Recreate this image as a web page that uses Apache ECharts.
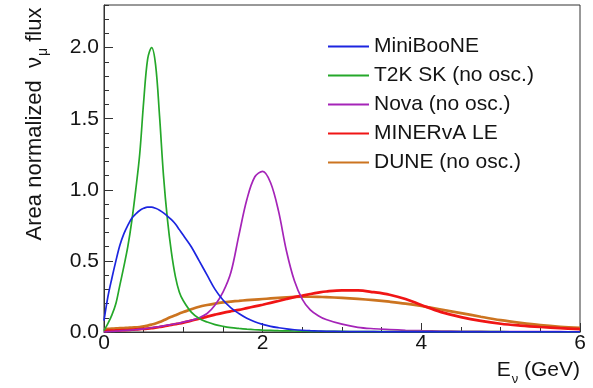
<!DOCTYPE html>
<html>
<head>
<meta charset="utf-8">
<script src="https://cdn.jsdelivr.net/npm/echarts@6/dist/echarts.min.js"></script>
<style>
  html, body { margin: 0; padding: 0; background: #fff; }
  #chart { width: 593px; height: 388px; }
</style>
</head>
<body>
<div id="chart"></div>
<script>
// Neutrino energy grid (GeV)
const energies = [0, 0.05, 0.1, 0.15, 0.2, 0.25, 0.3, 0.35, 0.4, 0.45, 0.5, 0.55, 0.6, 0.65, 0.7, 0.75, 0.8, 0.85, 0.9, 0.95, 1.0,
  1.1, 1.2, 1.3, 1.4, 1.5, 1.6, 1.7, 1.8, 1.9, 2.0, 2.1, 2.2, 2.3, 2.4, 2.5, 2.6, 2.7, 2.8,
  3.0, 3.2, 3.4, 3.6, 3.8, 4.0,
  4.25, 4.5, 4.75, 5.0, 5.25, 5.5, 5.75, 6.0];

// Area-normalized numu flux per beam
const miniboone = [0.08, 0.25, 0.38, 0.5, 0.61, 0.69, 0.75, 0.8, 0.83, 0.855, 0.87, 0.878, 0.878, 0.87, 0.857, 0.838, 0.815, 0.79, 0.76, 0.72, 0.68,
  0.6, 0.5, 0.4, 0.3, 0.225, 0.17, 0.13, 0.097, 0.072, 0.054, 0.04, 0.03, 0.022, 0.016, 0.012, 0.009, 0.007, 0.005,
  0.003, 0.002, 0.002, 0.001, 0.001, 0.001,
  0.001, 0.001, 0.001, 0.001, 0.001, 0.001, 0.001, 0.001];

const t2kSK = [0.01, 0.06, 0.12, 0.2, 0.33, 0.46, 0.6, 0.78, 1.0, 1.25, 1.62, 1.92, 2.0, 1.88, 1.52, 1.1, 0.79, 0.56, 0.39, 0.28, 0.22,
  0.14, 0.095, 0.07, 0.052, 0.04, 0.031, 0.025, 0.02, 0.016, 0.013, 0.011, 0.009, 0.008, 0.007, 0.006, 0.005, 0.005, 0.004,
  0.004, 0.003, 0.003, 0.003, 0.002, 0.002,
  0.002, 0.002, 0.002, 0.002, 0.001, 0.001, 0.001, 0.001];

const nova = [0, 0.002, 0.004, 0.006, 0.008, 0.01, 0.012, 0.014, 0.016, 0.019, 0.022, 0.026, 0.03, 0.034, 0.038, 0.043, 0.048, 0.053, 0.058, 0.063, 0.069,
  0.082, 0.1, 0.13, 0.19, 0.28, 0.42, 0.68, 0.93, 1.09, 1.13, 1.05, 0.85, 0.57, 0.36, 0.23, 0.155, 0.115, 0.088,
  0.055, 0.033, 0.023, 0.017, 0.012, 0.009,
  0.007, 0.005, 0.004, 0.003, 0.002, 0.002, 0.002, 0.001];

const minervaLE = [0.008, 0.009, 0.01, 0.011, 0.012, 0.013, 0.014, 0.016, 0.018, 0.02, 0.022, 0.024, 0.027, 0.031, 0.035, 0.04, 0.045, 0.05, 0.055, 0.06, 0.066,
  0.08, 0.093, 0.108, 0.122, 0.135, 0.146, 0.156, 0.168, 0.18, 0.192, 0.205, 0.218, 0.232, 0.245, 0.256, 0.267, 0.277, 0.285,
  0.293, 0.293, 0.28, 0.262, 0.232, 0.19,
  0.14, 0.105, 0.078, 0.058, 0.045, 0.035, 0.027, 0.02];

const dune = [0.02, 0.022, 0.024, 0.025, 0.027, 0.028, 0.03, 0.031, 0.033, 0.035, 0.04, 0.045, 0.052, 0.06, 0.07, 0.082, 0.095, 0.107, 0.118, 0.13, 0.14,
  0.16, 0.178, 0.19, 0.2, 0.208, 0.214, 0.219, 0.224, 0.228, 0.232, 0.236, 0.24, 0.244, 0.247, 0.248, 0.248, 0.247, 0.245,
  0.24, 0.233, 0.224, 0.213, 0.2, 0.183,
  0.158, 0.133, 0.107, 0.083, 0.064, 0.048, 0.037, 0.03];

const seriesNames = ['MiniBooNE', 'T2K SK (no osc.)', 'Nova (no osc.)', 'MINERvA LE', 'DUNE (no osc.)'];
const xTickLabels = ['0', '2', '4', '6'];
const yTickLabels = ['0.0', '0.5', '1.0', '1.5', '2.0'];

const FONT = '"Liberation Sans", Arial, Helvetica, sans-serif';
const INK = '#141414';

function pairs(values) {
  return energies.map((e, i) => [e, values[i]]);
}

const styles = [
  { data: miniboone, color: '#1c25e0', width: 1.7, z: 6 },
  { data: t2kSK, color: '#25a82a', width: 1.7, z: 5 },
  { data: nova, color: '#a524b8', width: 1.7, z: 4 },
  { data: minervaLE, color: '#f01515', width: 2.7, z: 3 },
  { data: dune, color: '#cc7420', width: 2.7, z: 2 }
];

const chart = echarts.init(document.getElementById('chart'), null, { renderer: 'canvas' });

chart.setOption({
  animation: false,
  backgroundColor: '#ffffff',
  grid: {
    left: 104, top: 5, width: 476, height: 327,
    show: true, borderColor: '#333', borderWidth: 1, backgroundColor: 'transparent'
  },
  legend: {
    data: seriesNames,
    orient: 'vertical',
    left: 323, top: 31,
    itemWidth: 41, itemHeight: 2,
    itemGap: 8,
    icon: 'rect',
    selectedMode: false,
    textStyle: { fontFamily: FONT, fontSize: 21, color: INK }
  },
  xAxis: {
    type: 'value', min: 0, max: 6, interval: 2,
    axisLine: { show: true, lineStyle: { color: '#333', width: 1 } },
    axisTick: { show: true, inside: true, length: 9, lineStyle: { color: '#333' } },
    minorTick: { show: true, splitNumber: 4, length: 5, lineStyle: { color: '#333' } },
    splitLine: { show: false },
    axisLabel: {
      margin: 1, fontFamily: FONT, fontSize: 21, color: INK,
      formatter: v => xTickLabels[Math.round(v / 2)] ?? ''
    }
  },
  yAxis: [
    {
      type: 'value', min: 0, max: 2.3, interval: 0.5,
      axisLine: { show: true, lineStyle: { color: '#333', width: 1 } },
      axisTick: { show: true, inside: true, length: 9, lineStyle: { color: '#333' } },
      splitLine: { show: false },
      axisLabel: {
        margin: 5, fontFamily: FONT, fontSize: 21, color: INK,
        showMaxLabel: false,
        formatter: v => {
          const k = Math.round(v / 0.5);
          return Math.abs(k * 0.5 - v) < 1e-6 ? (yTickLabels[k] ?? '') : '';
        }
      }
    },
    {
      // minor ticks every 0.1
      type: 'value', min: 0, max: 2.3, interval: 0.1, position: 'left',
      axisLine: { show: false },
      axisTick: { show: true, inside: true, length: 5, lineStyle: { color: '#333' } },
      splitLine: { show: false },
      axisLabel: { show: false }
    }
  ],
  graphic: [
    {
      type: 'text',
      x: 37, y: 124,
      rotation: Math.PI / 2,
      style: {
        text: '{a|Area normalized  }{a|ν}{s|μ}{a| flux}',
        align: 'center', verticalAlign: 'middle',
        fill: INK,
        rich: {
          a: { fontFamily: FONT, fontSize: 22, lineHeight: 27, fill: INK, verticalAlign: 'top' },
          s: { fontFamily: FONT, fontSize: 14, lineHeight: 14, fill: INK, verticalAlign: 'top', padding: [13, 0, 0, 1] }
        }
      }
    },
    {
      type: 'text',
      x: 580, y: 373,
      style: {
        text: '{a|E}{s|ν}{a| (GeV)}',
        align: 'right', verticalAlign: 'middle',
        fill: INK,
        rich: {
          a: { fontFamily: FONT, fontSize: 21, lineHeight: 27, fill: INK, verticalAlign: 'top' },
          s: { fontFamily: FONT, fontSize: 13, lineHeight: 13, fill: INK, verticalAlign: 'top', padding: [13, 0, 0, 1] }
        }
      }
    }
  ],
  series: styles.map((s, i) => ({
    name: seriesNames[i],
    type: 'line',
    xAxisIndex: 0,
    yAxisIndex: 0,
    data: pairs(s.data),
    smooth: 0.35,
    showSymbol: false,
    symbol: 'none',
    z: s.z,
    color: s.color,
    itemStyle: { color: s.color },
    lineStyle: { color: s.color, width: s.width },
    emphasis: { disabled: true }
  }))
});
</script>
</body>
</html>
